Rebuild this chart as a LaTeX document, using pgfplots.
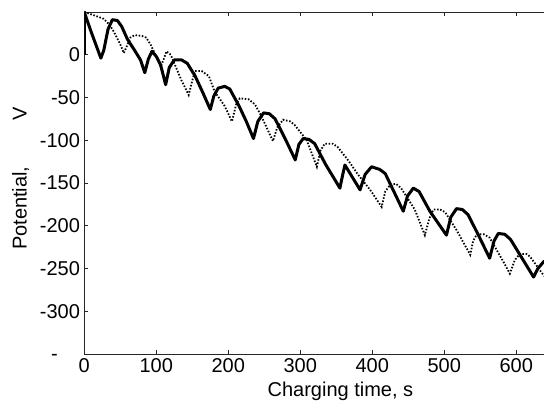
\documentclass[border=0pt]{standalone}
\usepackage{fontspec}
\setmainfont{Liberation Sans}
\usepackage{pgfplots}
\pgfplotsset{compat=1.18}
\newcommand\fsz{\fontsize{20bp}{24bp}\selectfont}
\pgfplotstableread{
x y
0 0
0 50
4 40
9 28
16 12
23 -4
27 5
33 30
39 41
46 40
52 33
60 18
70 5
78 -6
84 -21
89 -5
94 4
100 -2
106 -12
113 -35
118 -15
125 -6
135 -6
143 -10
154 -25
165 -45
175 -64
180 -48
186 -39
195 -37
202 -40
215 -60
225 -78
235 -98
241 -78
249 -68
257 -69
265 -75
280 -100
293 -123
298 -105
304 -98
312 -99
320 -104
335 -128
355 -156
359 -140
362 -129
370 -140
383 -158
390 -140
399 -131
410 -134
418 -139
430 -160
443 -183
449 -165
457 -156
465 -160
480 -183
503 -211
509 -190
517 -180
525 -181
533 -187
548 -212
563 -238
569 -218
575 -209
584 -210
592 -216
608 -238
624 -260
630 -250
638 -242
645 -240
}\solid
\pgfplotstableread{
x y
0 50
14 46
27 42
35 35
41 27
50 12
55 2
60 12
64 20
70 23
80 22
86 20
92 12
100 -2
106 -14
110 -6
114 4
120 0
126 -12
135 -30
145 -47
150 -30
154 -19
163 -19
173 -25
181 -43
195 -60
205 -78
211 -58
216 -51
228 -52
237 -58
246 -72
262 -101
268 -85
276 -76
286 -78
292 -82
309 -100
323 -131
328 -112
334 -104
345 -104
352 -108
367 -124
380 -140
397 -158
413 -178
418 -160
425 -152
433 -151
440 -156
459 -181
473 -211
479 -192
485 -181
494 -181
501 -184
517 -205
536 -234
540 -218
545 -210
555 -210
563 -214
582 -242
591 -256
598 -240
605 -233
614 -233
619 -236
638 -258
648 -266
}\dotted
\begin{document}
\begin{tikzpicture}
\begin{axis}[
  name=ax,
  scale only axis,
  width=475.2bp, height=342bp,
  xmin=0, xmax=660, ymin=-350, ymax=50,
  tick align=inside,
  xtick={0,100,...,600},
  xticklabels={0,100,200,300,400,500,600},
  ytick={-350,-300,...,0},
  yticklabels={{-\phantom{00}},-300,-250,-200,-150,-100,-50,0},
  ytick pos=left,
  xtick pos=both,
  /pgf/number format/assume math mode=true,
  every tick label/.append style={font=\fsz},
  xticklabel style={yshift=-1.3bp},
  yticklabel style={xshift=-0.8bp},
  major tick length=4bp,
  axis line style={line width=0.8bp, black!85},
  every tick/.style={line width=0.8bp, black!85},
  xlabel={Charging time, s},
  ylabel={Potential,\hspace{46bp}V},
  xlabel style={font=\fsz, inner sep=0pt, at={(axis description cs:0.539,0)}, anchor=north, yshift=-28bp},
  ylabel style={font=\fsz, inner sep=0pt, at={(axis description cs:-0.15215,0.513)}, anchor=north},
  clip=true,
]
\addplot[black, line width=1.8bp, dash pattern=on 1.5bp off 1.7bp, mark=none] table[x=x,y=y] {\dotted};
\addplot[black, line width=3bp, line join=round, mark=none] table[x=x,y=y] {\solid};
\end{axis}
\pgfresetboundingbox
\path[use as bounding box] ([xshift=-84.3bp,yshift=-47bp]ax.south west) rectangle ([xshift=459.7bp,yshift=354bp]ax.south west);
\end{tikzpicture}
\end{document}
